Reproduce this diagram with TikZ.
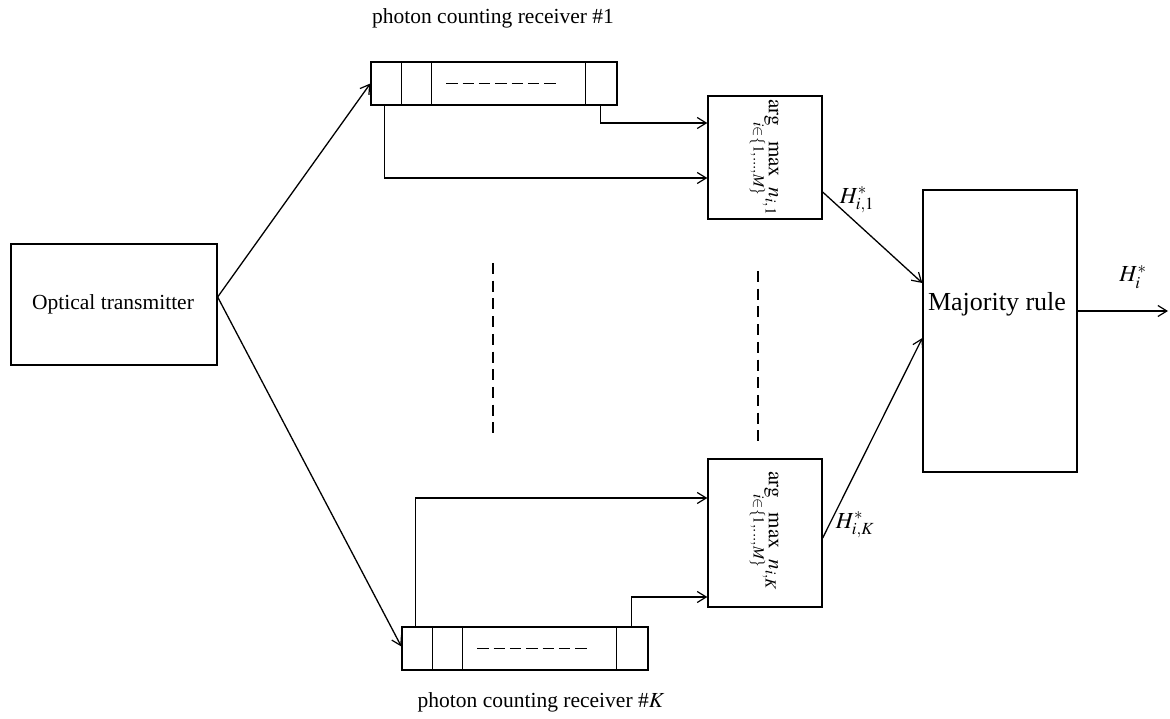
\documentclass[tikz,border=0pt]{standalone}
\usepackage{mathptmx}
\usepackage{mathtools}
\usepackage{fontspec}
\setmainfont{Liberation Serif}
\usetikzlibrary{arrows.meta,calc}
\tikzset{
  ln/.style={line width=1.3pt},
  blk/.style={draw, line width=1.3pt, inner sep=0pt, rectangle},
  arr/.style={line width=1.3pt, -{Straight Barb[length=9pt,width=11pt,line width=1.2pt]}},
  vdash/.style={line width=1.6pt, dash pattern=on 11pt off 6.7pt},
  hdash/.style={line width=1.6pt, dash pattern=on 11.5pt off 4.8pt},
  lbl/.style={inner sep=0pt, font=\fontsize{21.5}{25}\selectfont},
  mth/.style={inner sep=0pt, font=\fontsize{23}{27}\selectfont},
  amtext/.style={rotate=-90, inner sep=0pt, font=\fontsize{21}{25}\selectfont},
}
\newcommand{\argmaxn}[1]{$\displaystyle \arg\hspace{0.6em}\max\limits_{\mathclap{i\in\{1,\ldots,M\}}}\hspace{0.4em} n_{#1}$}
\begin{document}
\begin{tikzpicture}[x=1pt,y=-1pt]
\useasboundingbox (0,0) rectangle (1170,719);
% blocks
\node[blk, minimum width=206pt, minimum height=121pt] (tx) at (114,304.5) {};
\node[lbl] (txt) at (113,304) {Optical transmitter};
\node[blk, minimum width=246pt, minimum height=43pt] (rx1) at (494,83.5) {};
\node[blk, minimum width=246pt, minimum height=43pt] (rxK) at (525,648.5) {};
\node[blk, minimum width=114pt, minimum height=123pt] (am1) at (765,157.5) {};
\node[blk, minimum width=114pt, minimum height=148pt] (amK) at (765,533) {};
\node[blk, minimum width=154pt, minimum height=282pt] (maj) at (1000,331) {};
\node[inner sep=0pt, font=\fontsize{26}{30}\selectfont] (majt) at (997,304) {Majority rule};
% receiver internals
\foreach \r in {rx1,rxK}{
  \foreach \d in {31,61,215}{
    \draw[ln] ([xshift=\d pt]\r.north west) -- ([xshift=\d pt]\r.south west);
  }
  \draw[hdash] ([xshift=76pt]\r.west) -- ([xshift=186pt]\r.west);
}
% argmax texts
\node[amtext] (t1) at (763,157.5) {\argmaxn{i,1}};
\node[amtext] (tK) at (763,531) {\argmaxn{i,K}};
% labels
\node[lbl] (l1) at (493,18) {photon counting receiver \#1};
\node[lbl] (lK) at (541,702) {photon counting receiver \#$K$};
\node[mth] (h1) at (857,200) {$H^*_{i,1}$};
\node[mth] (hK) at (855,525) {$H^*_{i,K}$};
\node[mth] (hi) at (1133,277) {$H^*_{i}$};
\coordinate (out) at (1168,311);
% connectors
\draw[arr] ([yshift=7.5pt]tx.east) -- (rx1.west);
\draw[arr] ([yshift=7.5pt]tx.east) -- ([yshift=2pt]rxK.west);
\draw[arr] ([xshift=14pt]rx1.south west) |- ([yshift=-20.5pt]am1.west);
\draw[arr] ([xshift=230pt]rx1.south west) |- ([yshift=34.5pt]am1.west);
\draw[arr] ([xshift=14pt]rxK.north west) |- ([yshift=35pt]amK.west);
\draw[arr] ([xshift=230pt]rxK.north west) |- ([yshift=-64pt]amK.west);
\draw[arr] ([yshift=-34.5pt]am1.east) -- ([yshift=48pt]maj.west);
\draw[arr] ([yshift=-5pt]amK.east) -- ([yshift=-7pt]maj.west);
\draw[arr] ([yshift=20pt]maj.east) -- (out);
% vertical dashes
\draw[vdash] (493,263) -- (493,438);
\draw[vdash] (758,271) -- (758,446);
\end{tikzpicture}
\end{document}
